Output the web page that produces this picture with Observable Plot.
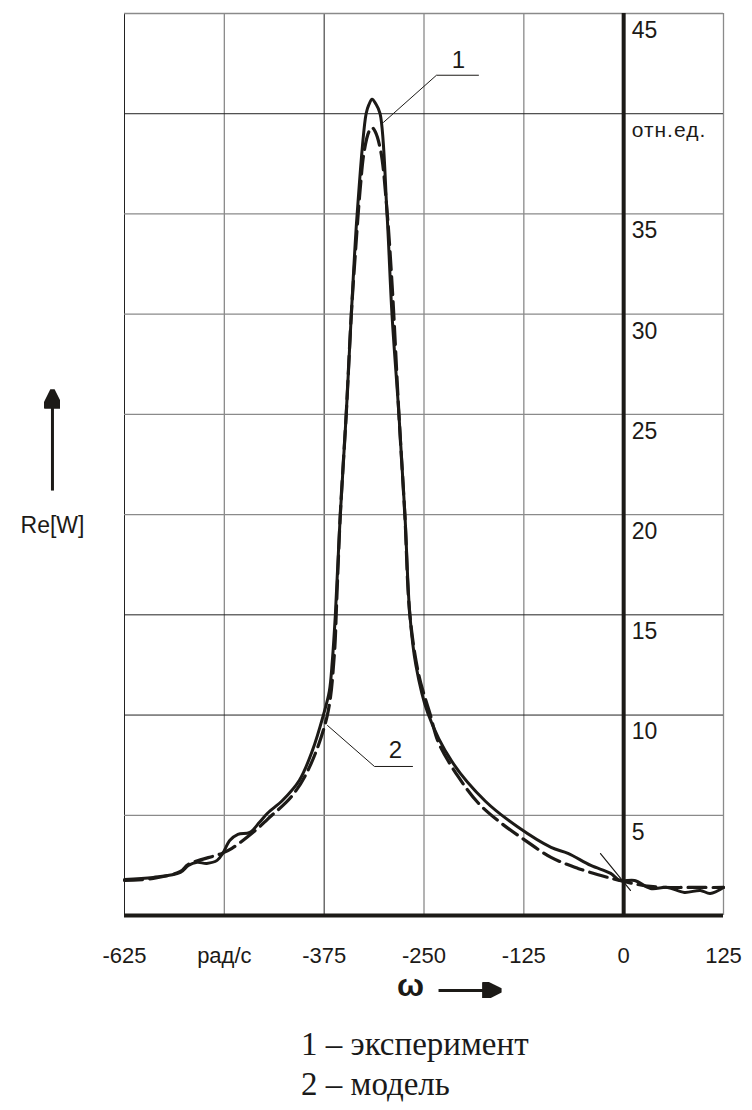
<!DOCTYPE html>
<html>
<head>
<meta charset="utf-8">
<script src="https://cdn.jsdelivr.net/npm/d3@7"></script>
<script src="https://cdn.jsdelivr.net/npm/@observablehq/plot@0.6"></script>
<style>
  html, body { margin: 0; padding: 0; background: #fff; }
  #legend { font-family: "Liberation Serif", "Times New Roman", serif; font-size: 33px; line-height: 40px; color: #1a1a1a; padding-left: 301px; padding-top: 14px; }
</style>
</head>
<body>
<div id="chart"></div>
<div id="legend"></div>
<script>
// ---- axes / ticks ----
const xTicks = [-625, -500, -375, -250, -125, 0, 125];
const xTickLabels = ["-625", "рад/с", "-375", "-250", "-125", "0", "125"];
const yTicks = [5, 10, 15, 20, 25, 30, 35, 40, 45];
const yTickLabels = ["5", "10", "15", "20", "25", "30", "35", "отн.ед.", "45"];
const gridXDark = [-625, -375];
const gridXGrey = [-500, -250, -125, 125];
const gridYDark = [40, 15, 10];
const gridYGrey = [45, 35, 30, 25, 20, 5];

// ---- curve 1: experiment ----
const expOmega = [-625, -589, -555, -545, -534, -522, -509, -502, -493, -483, -468, -456, -446, -427, -406, -390, -376, -368.5, -364.8, -361, -354.8, -347.4, -341, -333.7, -322.5, -319, -315, -310.5, -305, -296.3, -290.1, -281.4, -273.9, -267.7, -260.2, -245.3, -215.4, -173.1, -132, -90.9, -69.7, -41.1, -16.2, -5, 13.7, 33.6, 54.8, 76, 95.9, 108.3, 125];
const expReW  = [1.8, 1.9, 2.15, 2.5, 2.65, 2.6, 2.75, 3.1, 3.75, 4.05, 4.15, 4.65, 5.1, 5.75, 6.75, 8.2, 10, 11.2, 12.7, 15, 20, 25, 30, 35, 40, 40.45, 40.72, 40.5, 40, 35, 30, 25, 20, 15, 12.5, 10.1, 7.7, 5.7, 4.4, 3.4, 3.1, 2.5, 2.1, 1.75, 1.75, 1.35, 1.4, 1.15, 1.25, 1.1, 1.4];

// ---- curve 2: model ----
const modOmega = [-625, -589, -555, -545, -503, -490.5, -458, -446, -414.6, -393.4, -371, -362.3, -359.5, -354.8, -347.4, -341, -336, -330, -325, -319, -315, -311, -304, -297, -290, -281.4, -274, -267.7, -256.5, -242, -231.6, -206.7, -181.8, -153.1, -123.3, -90.9, -57.3, -19.9, -5, 33.6, 95.9, 125];
const modReW  = [1.75, 1.85, 2.2, 2.55, 3.1, 3.35, 4.35, 4.8, 6.0, 7.4, 10, 13, 15.5, 20, 25, 30, 33, 36.2, 38.1, 39.1, 39.3, 39.1, 38.1, 35.5, 31.5, 25, 20, 15, 12, 10, 8.6, 6.9, 5.6, 4.6, 3.75, 2.9, 2.35, 1.9, 1.75, 1.45, 1.4, 1.4];

// ---- annotations (data units) ----
const label1 = {x: -207, y: 42.66, text: "1"};
const leader1 = [{x: -181.8, y: 41.92}, {x: -234.4, y: 41.92}, {x: -300.7, y: 39.57}];
const label2 = {x: -285.7, y: 8.23, text: "2"};
const leader2 = [{x: -264.4, y: 7.435}, {x: -312, y: 7.435}, {x: -370.8, y: 9.48}];
const slash = [{x: -29, y: 3.09}, {x: 8.5, y: 1.25}];
const omegaArrow = {x1: -231.8, x2: -154.2, y: -3.74};
const omegaLabel = {x: -266.9, y: -3.74, text: "ω"};
const reArrow = {x: -715.2, y1: 21.2, y2: 26.2};
const reLabel = {x: -715.2, y: 19.46, text: "Re[W]"};
const legendLines = ["1 – эксперимент", "2 – модель"];

const expData = expOmega.map((x, i) => ({x, y: expReW[i]}));
const modData = modOmega.map((x, i) => ({x, y: modReW[i]}));
const xLab = xTicks.map((x, i) => ({x, y: 0, t: xTickLabels[i]}));
const yLab = yTicks.map((y, i) => ({x: 0, y, t: yTickLabels[i]}));

function filledArrow(color) {
  const m = d3.create("svg:marker")
    .attr("viewBox", "0 -5 10 10")
    .attr("markerUnits", "userSpaceOnUse")
    .attr("markerWidth", 26)
    .attr("markerHeight", 16)
    .attr("refX", 10)
    .attr("refY", 0)
    .attr("orient", "auto");
  m.append("path").attr("d", "M0,-5L10,0L0,5Z").attr("fill", color);
  return m.node();
}

const INK = "#1c1a17";
const SANS = "'Liberation Sans', Arial, sans-serif";

const chart = Plot.plot({
  width: 752,
  height: 1010,
  marginLeft: 124,
  marginRight: 29,
  marginTop: 13,
  marginBottom: 95,
  style: {fontFamily: SANS, background: "#fff", overflow: "visible"},
  x: {domain: [-625, 125], axis: null},
  y: {domain: [0, 45], axis: null},
  marks: [
    Plot.ruleX(gridXGrey, {y1: 0, y2: 45, stroke: "#8a8a8a", strokeWidth: 1.3}),
    Plot.ruleX(gridXDark, {y1: 0, y2: 45, stroke: "#222", strokeWidth: 1}),
    Plot.ruleY(gridYGrey, {x1: -625, x2: 125, stroke: "#8a8a8a", strokeWidth: 1.3}),
    Plot.ruleY(gridYDark, {x1: -625, x2: 125, stroke: "#222", strokeWidth: 1}),
    // main axes
    Plot.ruleY([0], {x1: -625, x2: 125, stroke: INK, strokeWidth: 4}),
    Plot.ruleX([0], {y1: 0, y2: 45, stroke: INK, strokeWidth: 4}),
    // curves
    Plot.line(modData, {x: "x", y: "y", curve: "catmull-rom", stroke: INK, strokeWidth: 3.2, strokeDasharray: "18,7"}),
    Plot.line(expData, {x: "x", y: "y", curve: "catmull-rom", stroke: INK, strokeWidth: 3}),
    // annotations
    Plot.line(leader1, {x: "x", y: "y", stroke: INK, strokeWidth: 1}),
    Plot.line(leader2, {x: "x", y: "y", stroke: INK, strokeWidth: 1}),
    Plot.line(slash, {x: "x", y: "y", stroke: INK, strokeWidth: 1.2}),
    Plot.text([label1, label2], {x: "x", y: "y", text: "text", fontSize: 24, fill: INK}),
    // tick labels
    Plot.text(xLab, {x: "x", y: "y", text: "t", dy: 40, fontSize: 22, fill: INK}),
    Plot.text(yLab, {x: "x", y: "y", text: "t", dx: 8, dy: 17, textAnchor: "start", fontSize: 23, fill: INK}),
    // axis titles
    Plot.link([omegaArrow], {x1: "x1", x2: "x2", y1: "y", y2: "y", stroke: INK, strokeWidth: 3, markerEnd: filledArrow}),
    Plot.text([omegaLabel], {x: "x", y: "y", text: "text", fontSize: 32, fontWeight: "bold", dy: -5, fill: INK}),
    Plot.link([reArrow], {x1: "x", x2: "x", y1: "y1", y2: "y2", stroke: INK, strokeWidth: 3, markerEnd: filledArrow}),
    Plot.text([reLabel], {x: "x", y: "y", text: "text", fontSize: 23, fill: INK})
  ]
});
d3.select(chart).selectAll("text").filter(function () { return this.textContent === "отн.ед."; })
  .attr("letter-spacing", "1").attr("font-size", 21);
document.getElementById("chart").appendChild(chart);
document.getElementById("legend").innerHTML = legendLines.map(s => `<div>${s}</div>`).join("");
</script>
</body>
</html>
